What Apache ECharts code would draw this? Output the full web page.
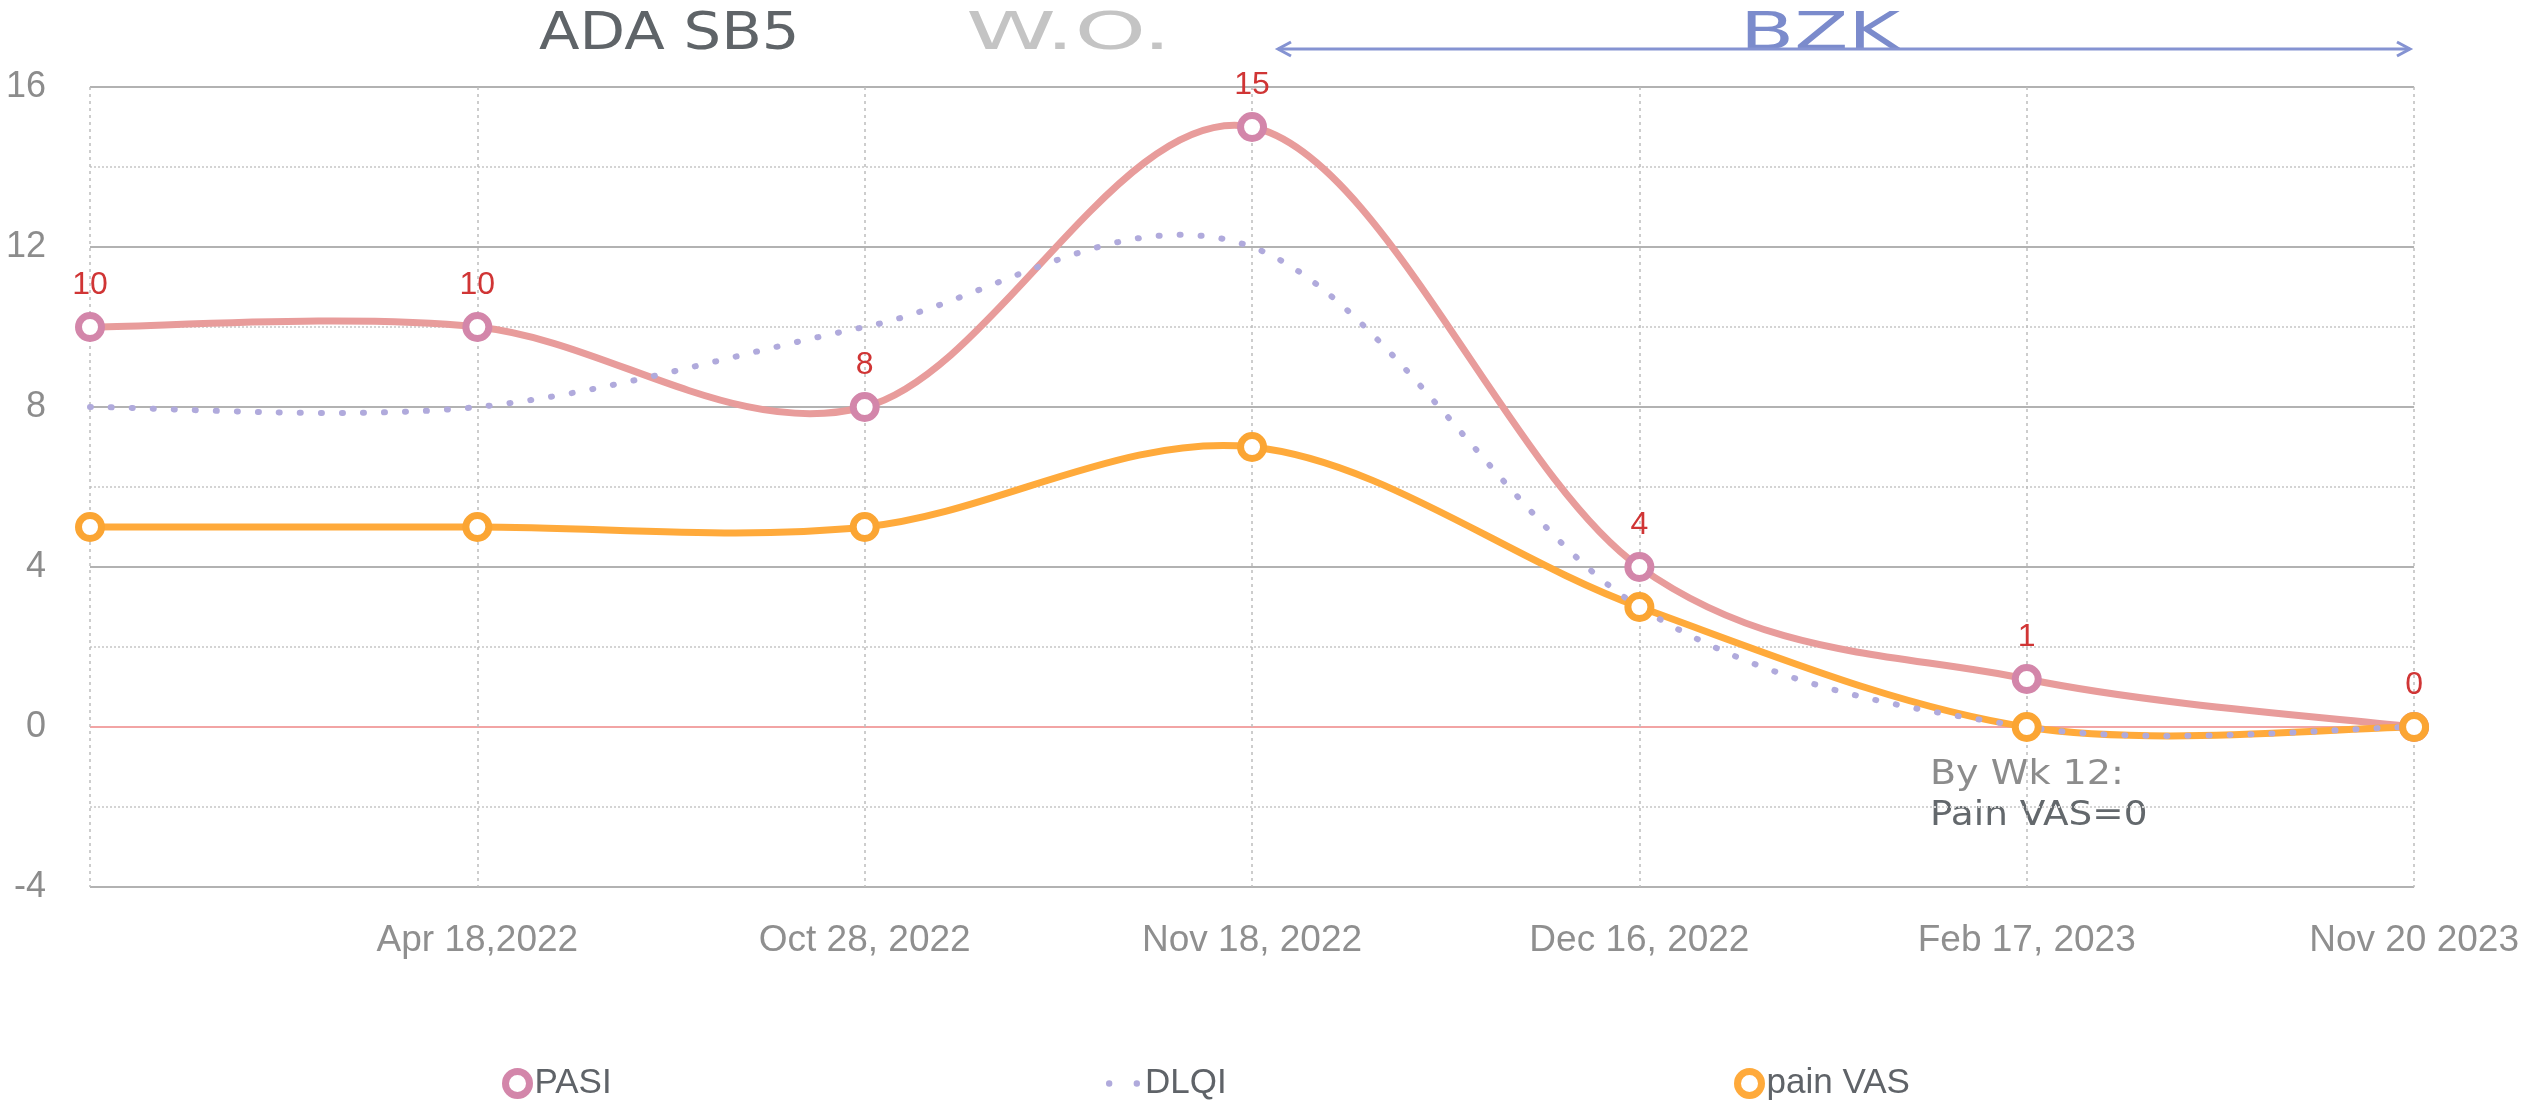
<!DOCTYPE html>
<html>
<head>
<meta charset="utf-8">
<title>PASI / DLQI / pain VAS</title>
<script src="https://cdn.jsdelivr.net/npm/echarts@6/dist/echarts.min.js"></script>
<style>
  html, body { margin: 0; padding: 0; background: #fff; }
  #chart { width: 2522px; height: 1103px; }
</style>
</head>
<body>
<div id="chart"></div>
<script>
// visit dates (first visit has no label on the axis)
const dates = ['', 'Apr 18,2022', 'Oct 28, 2022', 'Nov 18, 2022', 'Dec 16, 2022', 'Feb 17, 2023', 'Nov 20 2023']
const pasi = [10, 10, 8, 15, 4, 1.2, 0]
const dlqi = [8, 8, 10, 12, 3, 0, 0]
const painVas = [5, 5, 5, 7, 3, 0, 0]
const yMin = -4
const yMax = 16
const yStep = 4

const labelFont = 'Liberation Sans'
const titleFont = '"DejaVu Sans"'

const PASI_LINE = '#e89c9b'
const PASI_MARK = '#d386aa'
const VAS_COLOR = '#ffaa3b'
const DLQI_COLOR = '#b0aadc'

// excel style smoothing (catmull-rom), points come from the chart's own scales
function smoothPath(api, values) {
  const pts = values.map((v, i) => api.coord([i, v]))
  const n = pts.length
  let d = 'M' + pts[0][0] + ',' + pts[0][1]
  for (let i = 0; i < n - 1; i++) {
    const p0 = pts[Math.max(i - 1, 0)]
    const p1 = pts[i]
    const p2 = pts[i + 1]
    const p3 = pts[Math.min(i + 2, n - 1)]
    const c1x = p1[0] + (p2[0] - p0[0]) / 6
    const c1y = p1[1] + (p2[1] - p0[1]) / 6
    const c2x = p2[0] - (p3[0] - p1[0]) / 6
    const c2y = p2[1] - (p3[1] - p1[1]) / 6
    d += ' C' + c1x + ',' + c1y + ' ' + c2x + ',' + c2y + ' ' + p2[0] + ',' + p2[1]
  }
  return d
}

function curveSeries(name, values, color, width, dash, z) {
  return {
    name: name,
    type: 'custom',
    coordinateSystem: 'cartesian2d',
    data: values.map((v, i) => [i, v]),
    encode: { x: 0, y: 1 },
    silent: true,
    z: z,
    renderItem: (params, api) => {
      if (params.dataIndex !== 0) return null
      return {
        type: 'path',
        shape: { pathData: smoothPath(api, values) },
        style: { fill: 'none', stroke: color, lineWidth: width, lineDash: dash, lineCap: 'round' }
      }
    }
  }
}

function legendFor(item, left, iconW, iconH) {
  return {
    left: left,
    top: 1061,
    itemWidth: iconW,
    itemHeight: iconH,
    selectedMode: false,
    textStyle: { fontSize: 35, color: '#5f6368', fontFamily: labelFont },
    data: [item]
  }
}

const chart = echarts.init(document.getElementById('chart'))

chart.setOption({
  animation: false,
  grid: {
    left: 90,
    right: 105,
    top: 87,
    bottom: 216
  },
  legend: [
    legendFor({ name: 'PASI', icon: 'circle', itemStyle: { color: '#fff', borderColor: PASI_MARK, borderWidth: 7 } }, 497, 24, 24),
    legendFor({
      name: 'DLQI',
      icon: 'path://M0,3a3,3 0 1,0 6,0a3,3 0 1,0 -6,0M26,3a3,3 0 1,0 6,0a3,3 0 1,0 -6,0',
      itemStyle: { color: DLQI_COLOR, borderWidth: 0 }
    }, 1101, 34, 10),
    legendFor({ name: 'pain VAS', icon: 'circle', itemStyle: { color: '#fff', borderColor: VAS_COLOR, borderWidth: 7 } }, 1729, 24, 24)
  ],
  xAxis: {
    type: 'category',
    data: dates,
    boundaryGap: false,
    axisLine: { show: false },
    axisTick: { show: false },
    axisLabel: {
      margin: 35,
      fontSize: 37,
      color: '#8f8f8f',
      fontFamily: labelFont,
      interval: 0
    },
    splitLine: {
      show: true,
      lineStyle: { color: '#bdbdbd', width: 1.5, type: [3, 4] }
    }
  },
  yAxis: {
    type: 'value',
    min: yMin,
    max: yMax,
    interval: yStep,
    axisLine: { show: false },
    axisTick: { show: false },
    axisLabel: {
      margin: 44,
      fontSize: 36,
      color: '#8c8c8c',
      fontFamily: labelFont
    },
    splitLine: {
      lineStyle: {
        // -4, 0, 4, 8, 12, 16 -> zero line is pink
        color: ['#b2b2b2', '#f2a4a4', '#b2b2b2', '#b2b2b2', '#b2b2b2', '#b2b2b2'],
        width: 2
      }
    },
    minorTick: { show: false, splitNumber: 2 },
    minorSplitLine: {
      show: true,
      lineStyle: { color: '#d4d4d4', width: 2, type: [2, 2] }
    }
  },
  series: [
    curveSeries('PASI curve', pasi, PASI_LINE, 7, null, 2),
    curveSeries('pain VAS curve', painVas, VAS_COLOR, 7, null, 3),
    curveSeries('DLQI curve', dlqi, DLQI_COLOR, 6, [1, 20], 4),
    {
      name: 'PASI',
      type: 'line',
      data: pasi,
      symbol: 'circle',
      symbolSize: 23,
      lineStyle: { width: 0, opacity: 0 },
      itemStyle: { color: '#fff', borderColor: PASI_MARK, borderWidth: 7 },
      label: {
        show: true,
        position: 'top',
        distance: 11,
        color: '#d03535',
        fontSize: 32,
        fontFamily: labelFont,
        formatter: p => Math.round(p.value)
      },
      emphasis: { disabled: true },
      z: 5
    },
    {
      name: 'DLQI',
      type: 'line',
      data: dlqi,
      symbol: 'none',
      itemStyle: { color: DLQI_COLOR },
      lineStyle: { width: 0, opacity: 0 },
      emphasis: { disabled: true },
      z: 1
    },
    {
      name: 'pain VAS',
      type: 'line',
      data: painVas,
      symbol: 'circle',
      symbolSize: 23,
      lineStyle: { width: 0, opacity: 0 },
      itemStyle: { color: '#fff', borderColor: '#fba533', borderWidth: 7 },
      emphasis: { disabled: true },
      z: 6
    }
  ],
  graphic: [
    {
      type: 'text', x: 539, y: 35, scaleX: 1.14,
      style: { text: 'ADA SB5', fill: '#5f6468', font: '52px ' + titleFont, verticalAlign: 'middle' }
    },
    {
      type: 'text', x: 966, y: 35, scaleX: 1.75,
      style: { text: 'W.O.', fill: '#c4c4c4', font: '52px ' + titleFont, verticalAlign: 'middle' }
    },
    {
      type: 'text', x: 1740, y: 35, scaleX: 1.52,
      style: { text: 'BZK', fill: '#7b8bcc', font: '52px ' + titleFont, verticalAlign: 'middle' }
    },
    {
      type: 'polyline',
      shape: { points: [[1278, 49], [2410, 49]] },
      style: { stroke: '#8593d2', lineWidth: 3, fill: null }
    },
    {
      type: 'polyline',
      shape: { points: [[1291, 42], [1278, 49], [1291, 56]] },
      style: { stroke: '#8593d2', lineWidth: 3, fill: null }
    },
    {
      type: 'polyline',
      shape: { points: [[2397, 42], [2410, 49], [2397, 56]] },
      style: { stroke: '#8593d2', lineWidth: 3, fill: null }
    },
    {
      type: 'text', x: 1930, y: 775, scaleX: 1.12,
      style: { text: 'By Wk 12:', fill: '#8c8c8c', font: '34px ' + titleFont, verticalAlign: 'middle' }
    },
    {
      type: 'text', x: 1930, y: 816, scaleX: 1.1,
      style: { text: 'Pain VAS=0', fill: '#63686c', font: '34px ' + titleFont, verticalAlign: 'middle' }
    }
  ]
})
</script>
</body>
</html>
